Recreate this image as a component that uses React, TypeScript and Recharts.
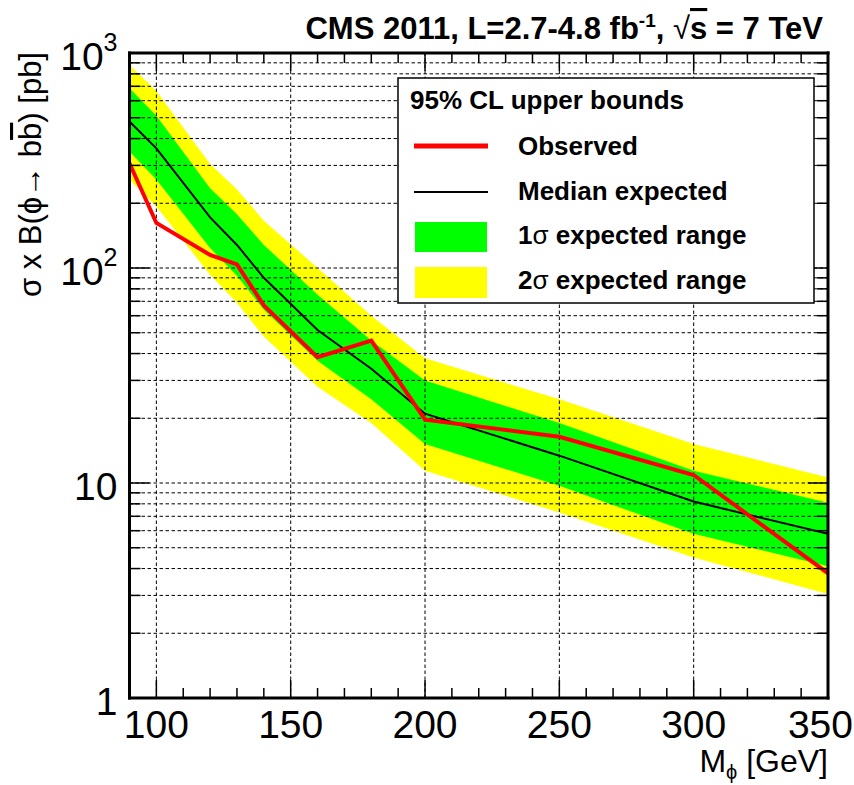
import { ComposedChart, Area, Line, XAxis, YAxis, ReferenceLine } from 'recharts'

// Higgs-like scalar masses (GeV) and 95% CL limits on sigma x B(phi -> bb) in pb
const masses = [90, 100, 120, 130, 140, 160, 180, 200, 250, 300, 350]
const observed = [307, 162, 115, 104, 67, 38.5, 46, 19.7, 16.4, 10.9, 3.8]
const expected = [480, 360, 172, 128, 90, 51.5, 34, 21, 13.4, 8.2, 5.8]
const oneSigmaLow = [348, 258, 124, 92, 64, 37, 24.5, 15.2, 9.7, 5.8, 4.1]
const oneSigmaHigh = [685, 510, 235, 178, 128, 75, 46, 30, 19, 11.4, 8.1]
const twoSigmaLow = [257, 193, 93, 69, 48, 28, 19, 11.4, 7.3, 4.5, 3.05]
const twoSigmaHigh = [880, 665, 305, 232, 166, 100, 60, 38, 24.5, 15.2, 10.6]

const xTicks = [90, 100, 110, 120, 130, 140, 150, 160, 170, 180, 190, 200, 210, 220, 230, 240, 250, 260, 270, 280, 290, 300, 310, 320, 330, 340, 350]
const xLabelTicks = [100, 150, 200, 250, 300, 350]
const xGridLines = [100, 150, 200, 250, 300]
const yTicks = [1, 2, 3, 4, 5, 6, 7, 8, 9, 10, 20, 30, 40, 50, 60, 70, 80, 90, 100, 200, 300, 400, 500, 600, 700, 800, 900, 1000]
const yGridLines = [2, 3, 4, 5, 6, 7, 8, 9, 10, 20, 30, 40, 50, 60, 70, 80, 90, 100, 200, 300, 400, 500, 600, 700, 800, 900]
const yLabelTicks = [
  { value: 1, base: '1', sup: '' },
  { value: 10, base: '10', sup: '' },
  { value: 100, base: '10', sup: '2' },
  { value: 1000, base: '10', sup: '3' },
]

const data = masses.map((m, i) => ({
  m,
  obs: observed[i],
  exp: expected[i],
  band1: [oneSigmaLow[i], oneSigmaHigh[i]],
  band2: [twoSigmaLow[i], twoSigmaHigh[i]],
}))

const FONT = '"Liberation Sans", Arial, Helvetica, sans-serif'
const GRID_DASH = '3.5 2.5'

const BottomTick = (props: any) => {
  const { x, y, payload } = props
  const major = xLabelTicks.includes(payload.value)
  // the last label sits at the frame corner; keep it inside the canvas
  const last = payload.value === 350
  return (
    <g>
      <line x1={x} y1={y} x2={x} y2={y - (major ? 18 : 10)} stroke="#000" strokeWidth={1.5} />
      {major && (
        <text
          x={last ? x + 25 : x}
          y={y + 40}
          textAnchor={last ? 'end' : 'middle'}
          fontSize={39}
          fontFamily={FONT}
          fill="#000"
        >
          {payload.value}
        </text>
      )}
    </g>
  )
}

const TopTick = (props: any) => {
  const { x, y, payload } = props
  const major = xLabelTicks.includes(payload.value)
  return <line x1={x} y1={y} x2={x} y2={y + (major ? 18 : 10)} stroke="#000" strokeWidth={1.5} />
}

const LeftTick = (props: any) => {
  const { x, y, payload } = props
  const lab = yLabelTicks.find((t) => t.value === payload.value)
  return (
    <g>
      <line x1={x} y1={y} x2={x + (lab ? 20 : 11)} y2={y} stroke="#000" strokeWidth={1.5} />
      {lab && (
        <text x={x - 12} y={y + 17} textAnchor="end" fontSize={39} fontFamily={FONT} fill="#000">
          {lab.base}
          {lab.sup && (
            <tspan dy={-19} fontSize={25}>
              {lab.sup}
            </tspan>
          )}
        </text>
      )}
    </g>
  )
}

const RightTick = (props: any) => {
  const { x, y, payload } = props
  const major = yLabelTicks.some((t) => t.value === payload.value)
  return <line x1={x} y1={y} x2={x - (major ? 20 : 11)} y2={y} stroke="#000" strokeWidth={1.5} />
}

const frame = { stroke: '#000', strokeWidth: 3, strokeLinecap: 'square' as const }

export default function App() {
  return (
    <div style={{ position: 'absolute', left: 0, top: 0, width: 854, height: 785, background: '#fff' }}>
      <ComposedChart width={854} height={785} data={data} margin={{ top: 52, right: 25, bottom: 86, left: 128.5 }}>
        <Area dataKey="band2" type="linear" fill="#ffff00" fillOpacity={1} stroke="none" isAnimationActive={false} />
        <Area dataKey="band1" type="linear" fill="#00ff00" fillOpacity={1} stroke="none" isAnimationActive={false} />
        {/* dashed grid sits above the bands, below the limit curves */}
        {yGridLines.map((v) => (
          <ReferenceLine key={`y${v}`} y={v} stroke="#000" strokeDasharray={GRID_DASH} strokeWidth={1} zIndex={150} />
        ))}
        {xGridLines.map((v) => (
          <ReferenceLine key={`x${v}`} x={v} stroke="#000" strokeDasharray={GRID_DASH} strokeWidth={1} zIndex={150} />
        ))}
        <Line dataKey="exp" type="linear" stroke="#000" strokeWidth={2} dot={false} isAnimationActive={false} />
        <Line dataKey="obs" type="linear" stroke="#ff0000" strokeWidth={4} dot={false} isAnimationActive={false} />
        <XAxis
          dataKey="m"
          type="number"
          domain={[90, 350]}
          ticks={xTicks}
          interval={0}
          height={1}
          tickSize={0}
          tickMargin={0}
          tickLine={false}
          tick={BottomTick}
          axisLine={frame}
          allowDataOverflow
        />
        <XAxis
          xAxisId="top"
          orientation="top"
          dataKey="m"
          type="number"
          domain={[90, 350]}
          ticks={xTicks}
          interval={0}
          height={1}
          tickSize={0}
          tickMargin={0}
          tickLine={false}
          tick={TopTick}
          axisLine={frame}
          allowDataOverflow
        />
        <YAxis
          scale="log"
          type="number"
          domain={[1, 1000]}
          ticks={yTicks}
          interval={0}
          width={1}
          tickSize={0}
          tickMargin={0}
          tickLine={false}
          tick={LeftTick}
          axisLine={frame}
          allowDataOverflow
        />
        <YAxis
          yAxisId="right"
          orientation="right"
          scale="log"
          type="number"
          domain={[1, 1000]}
          ticks={yTicks}
          interval={0}
          width={1}
          tickSize={0}
          tickMargin={0}
          tickLine={false}
          tick={RightTick}
          axisLine={frame}
          allowDataOverflow
        />
      </ComposedChart>

      <svg width={854} height={785} style={{ position: 'absolute', left: 0, top: 0, pointerEvents: 'none' }} fontFamily={FONT}>
        <text x={823} y={39} textAnchor="end" fontSize={31} fontWeight="bold">
          CMS 2011, L=2.7-4.8 fb
          <tspan dy={-12} fontSize={19}>-1</tspan>
          <tspan dy={12}>, </tspan>
          <tspan fontWeight="normal">√</tspan>
          <tspan textDecoration="overline">s</tspan>
          <tspan> = 7 TeV</tspan>
        </text>

        <text transform="translate(41,52) rotate(-90)" textAnchor="end" fontSize={31}>
          σ x B(ϕ→ b<tspan textDecoration="overline">b</tspan>) [pb]
        </text>

        <text x={828} y={772} textAnchor="end" fontSize={32}>
          M
          <tspan dy={7} fontSize={20}>ϕ</tspan>
          <tspan dy={-7}> [GeV]</tspan>
        </text>

        <g>
          <rect x={398} y={78} width={416} height={225} fill="#fff" stroke="#000" strokeWidth={1.5} />
          <text x={410} y={109} fontSize={26} fontWeight="bold">95% CL upper bounds</text>
          <line x1={414} y1={146} x2={488} y2={146} stroke="#ff0000" strokeWidth={5} />
          <text x={518} y={155} fontSize={26} fontWeight="bold">Observed</text>
          <line x1={414} y1={192} x2={488} y2={192} stroke="#000" strokeWidth={2} />
          <text x={518} y={200} fontSize={26} fontWeight="bold">Median expected</text>
          <rect x={415} y={222} width={72} height={30} fill="#00ff00" />
          <text x={518} y={244} fontSize={26} fontWeight="bold">
            1<tspan fontWeight="normal">σ</tspan> expected range
          </text>
          <rect x={415} y={267} width={72} height={31} fill="#ffff00" />
          <text x={518} y={289} fontSize={26} fontWeight="bold">
            2<tspan fontWeight="normal">σ</tspan> expected range
          </text>
        </g>
      </svg>
    </div>
  )
}
